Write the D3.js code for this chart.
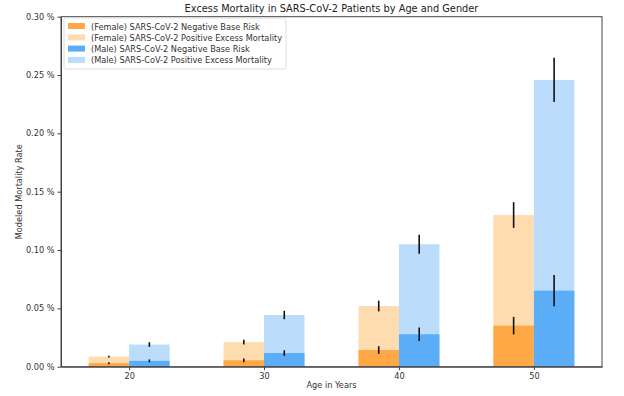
<!DOCTYPE html>
<html lang="en">
<head>
<meta charset="utf-8">
<title>Excess Mortality</title>
<script src="https://cdn.jsdelivr.net/npm/d3@7"></script>
<style>
  body { margin: 0; background: #fff; }
  text { font-family: "DejaVu Sans", sans-serif; fill: #333; }
  .axis path, .axis line { stroke: #444; }
  .axis text { font-size: 8.2px; fill: #333; }
</style>
</head>
<body>
<svg width="624" height="396"></svg>
<script>
// ages on the x axis
const ages = [20, 30, 40, 50];
// values in percent
const femaleBase = [0.003, 0.0055, 0.0143, 0.0352];
const femaleBaseErr = [0.0008, 0.0016, 0.0033, 0.0075];
const femaleTotal = [0.0086, 0.021, 0.052, 0.130];
const femaleTotalErr = [0.0008, 0.002, 0.0046, 0.011];
const maleBase = [0.005, 0.0117, 0.0278, 0.0652];
const maleBaseErr = [0.0012, 0.0024, 0.0057, 0.0133];
const maleTotal = [0.019, 0.0443, 0.105, 0.2458];
const maleTotalErr = [0.002, 0.0036, 0.0081, 0.019];
const yTicks = [0, 0.05, 0.10, 0.15, 0.20, 0.25, 0.30];
const legendLabels = [
  "(Female) SARS-CoV-2 Negative Base Risk",
  "(Female) SARS-CoV-2 Positive Excess Mortality",
  "(Male) SARS-CoV-2 Negative Base Risk",
  "(Male) SARS-CoV-2 Positive Excess Mortality"
];
const colors = ["#ffa845", "#ffdcb0", "#5cadf8", "#bbdcfb"];

const svg = d3.select("svg");
const plotLeft = 61, plotRight = 602, plotTop = 16.7, plotBottom = 366.7;

const x = d3.scaleLinear().domain([14.95, 55.05]).range([plotLeft, plotRight]);
const y = d3.scaleLinear().domain([0, 0.30]).range([plotBottom, plotTop]);
const barW = 3; // in years

// excess bars behind, base bars in front
const series = [
  { v: femaleTotal, e: femaleTotalErr, c: colors[1], off: -barW },
  { v: femaleBase, e: femaleBaseErr, c: colors[0], off: -barW },
  { v: maleTotal, e: maleTotalErr, c: colors[3], off: 0 },
  { v: maleBase, e: maleBaseErr, c: colors[2], off: 0 }
];

series.forEach(function (s) {
  const rows = ages.map((a, i) => ({ a: a, v: s.v[i], e: s.e[i] }));
  svg.append("g").selectAll("rect")
    .data(rows).enter().append("rect")
      .attr("x", d => x(d.a + s.off))
      .attr("width", d => x(d.a + s.off + barW) - x(d.a + s.off))
      .attr("y", d => y(d.v))
      .attr("height", d => y(0) - y(d.v))
      .style("fill", s.c);
});

// error bars on top
series.forEach(function (s) {
  const rows = ages.map((a, i) => ({ a: a, v: s.v[i], e: s.e[i] }));
  svg.append("g").selectAll("line")
    .data(rows).enter().append("line")
      .attr("x1", d => x(d.a + s.off + barW / 2))
      .attr("x2", d => x(d.a + s.off + barW / 2))
      .attr("y1", d => y(d.v - d.e))
      .attr("y2", d => y(d.v + d.e))
      .style("stroke", "#111")
      .style("stroke-width", 1.6);
});

// axes
svg.append("g").attr("class", "axis")
  .attr("transform", "translate(0," + plotBottom + ")")
  .call(d3.axisBottom(x).tickValues(ages).tickSize(3.5).tickSizeOuter(0).tickPadding(3).tickFormat(d3.format("d")));
svg.append("g").attr("class", "axis")
  .attr("transform", "translate(" + plotLeft + ",0)")
  .call(d3.axisLeft(y).tickValues(yTicks).tickSize(3.5).tickSizeOuter(0).tickPadding(3).tickFormat(d => d3.format(".2f")(d) + " %"));

// frame
svg.append("rect")
  .attr("x", plotLeft).attr("y", plotTop)
  .attr("width", plotRight - plotLeft).attr("height", plotBottom - plotTop)
  .style("fill", "none").style("stroke", "#444").style("stroke-width", 1);

// title and labels
svg.append("text").attr("x", (plotLeft + plotRight) / 2).attr("y", 12)
  .attr("text-anchor", "middle").style("font-size", "9.8px").style("fill", "#222")
  .text("Excess Mortality in SARS-CoV-2 Patients by Age and Gender");
svg.append("text").attr("x", (plotLeft + plotRight) / 2).attr("y", 388)
  .attr("text-anchor", "middle").style("font-size", "8.2px")
  .text("Age in Years");
svg.append("text")
  .attr("transform", "translate(22," + ((plotTop + plotBottom) / 2) + ") rotate(-90)")
  .attr("text-anchor", "middle").style("font-size", "8.2px")
  .text("Modeled Mortality Rate");

// legend
const legend = svg.append("g").attr("transform", "translate(64,18)");
legend.append("rect")
  .attr("width", 222).attr("height", 51).attr("rx", 2)
  .style("fill", "#fff").style("fill-opacity", 0.85)
  .style("stroke", "#ddd");
legend.selectAll("g.item")
  .data(legendLabels).enter().append("g")
    .attr("class", "item")
    .attr("transform", (d, i) => "translate(4," + (5 + i * 11.3) + ")")
    .each(function (d, i) {
      const g = d3.select(this);
      g.append("rect").attr("width", 17).attr("height", 6).style("fill", colors[i]);
      g.append("text").attr("x", 23).attr("y", 6.5).style("font-size", "8.2px").text(d);
    });
</script>
</body>
</html>
